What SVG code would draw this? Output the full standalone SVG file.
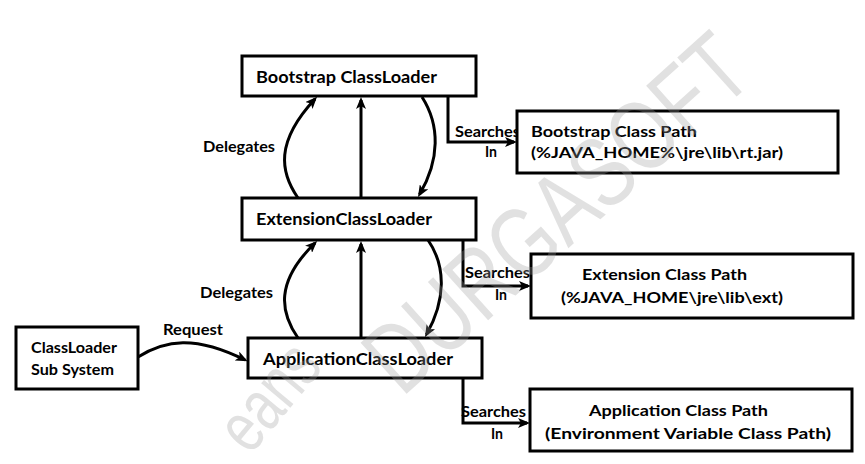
<svg xmlns="http://www.w3.org/2000/svg" width="865" height="464" viewBox="0 0 865 464">
<style>
.box{fill:#fff;stroke:#000;stroke-width:3}
.t{font-family:Lato,"Liberation Sans",sans-serif;font-weight:bold;fill:#000}
.big{font-size:17.5px}
.mid{font-size:16px}
.sm{font-size:15px}
.c{fill:none;stroke:#000;stroke-width:3}
.wm{font-family:"Liberation Sans",sans-serif;fill:#9a9a9a;fill-opacity:0.3}
</style>
<defs>
<marker id="ah" viewBox="0 0 12 10" markerWidth="12" markerHeight="10" refX="9" refY="5" orient="auto" markerUnits="userSpaceOnUse">
<path d="M0,0 L12,5 L0,10 L3,5 z" fill="#000"/>
</marker>
</defs>
<rect width="865" height="464" fill="#fff"/>
<g id="connectors">
<path class="c" d="M298,198 C280,172 275,142 315,99" marker-end="url(#ah)"/>
<path class="c" d="M361,197 V100" marker-end="url(#ah)"/>
<path class="c" d="M422,97 C440,125 440,160 419.5,194.5" marker-end="url(#ah)"/>
<path class="c" d="M298,338 C280,312 275,282 315,243" marker-end="url(#ah)"/>
<path class="c" d="M361,338 V244" marker-end="url(#ah)"/>
<path class="c" d="M428,240 C446,266 446,300 426.5,334.5" marker-end="url(#ah)"/>
<path class="c" d="M138,357 C165,340 195,335 245,360" marker-end="url(#ah)"/>
<path class="c" d="M448,96 V142 H514" marker-end="url(#ah)"/>
<path class="c" d="M463,240 V286 H528" marker-end="url(#ah)"/>
<path class="c" d="M463,378 V423 H527" marker-end="url(#ah)"/>
</g>
<g id="labels">
<text class="t sm" x="203" y="152" textLength="72" lengthAdjust="spacingAndGlyphs">Delegates</text>
<text class="t sm" x="200" y="298" textLength="73" lengthAdjust="spacingAndGlyphs">Delegates</text>
<text class="t sm" x="163" y="335" textLength="60" lengthAdjust="spacingAndGlyphs">Request</text>
<text class="t sm" x="455" y="137" textLength="65" lengthAdjust="spacingAndGlyphs">Searches</text>
<text class="t sm" x="485" y="157" textLength="12" lengthAdjust="spacingAndGlyphs">In</text>
<text class="t sm" x="465" y="278" textLength="65" lengthAdjust="spacingAndGlyphs">Searches</text>
<text class="t sm" x="495" y="300" textLength="12" lengthAdjust="spacingAndGlyphs">In</text>
<text class="t sm" x="461" y="417" textLength="65" lengthAdjust="spacingAndGlyphs">Searches</text>
<text class="t sm" x="491" y="439" textLength="12" lengthAdjust="spacingAndGlyphs">In</text>
</g>
<g id="bootstrap">
<rect class="box" x="242" y="56" width="234" height="40"/>
<text class="t big" x="256" y="83" textLength="181" lengthAdjust="spacingAndGlyphs">Bootstrap ClassLoader</text>
</g>
<g id="extension">
<rect class="box" x="242" y="198" width="234" height="42"/>
<text class="t big" x="256" y="225" textLength="176" lengthAdjust="spacingAndGlyphs">ExtensionClassLoader</text>
</g>
<g id="application">
<rect class="box" x="248" y="338" width="234" height="40"/>
<text class="t big" x="263" y="365" textLength="190" lengthAdjust="spacingAndGlyphs">ApplicationClassLoader</text>
</g>
<g id="subsystem">
<rect class="box" x="16" y="327" width="122" height="62"/>
<text class="t mid" x="31" y="353" textLength="86" lengthAdjust="spacingAndGlyphs">ClassLoader</text>
<text class="t mid" x="31" y="375" textLength="83" lengthAdjust="spacingAndGlyphs">Sub System</text>
</g>
<g id="bootstrap-path">
<rect class="box" x="517" y="111" width="321" height="62"/>
<text class="t sm" x="531" y="137" textLength="166" lengthAdjust="spacingAndGlyphs">Bootstrap Class Path</text>
<text class="t sm" x="531" y="158" textLength="252" lengthAdjust="spacingAndGlyphs">(%JAVA_HOME%\jre\lib\rt.jar)</text>
</g>
<g id="extension-path">
<rect class="box" x="531" y="254" width="322" height="64"/>
<text class="t sm" x="582" y="280" textLength="165" lengthAdjust="spacingAndGlyphs">Extension Class Path</text>
<text class="t sm" x="561" y="303" textLength="222" lengthAdjust="spacingAndGlyphs">(%JAVA_HOME\jre\lib\ext)</text>
</g>
<g id="application-path">
<rect class="box" x="530" y="389" width="322" height="62"/>
<text class="t sm" x="589" y="416" textLength="179" lengthAdjust="spacingAndGlyphs">Application Class Path</text>
<text class="t sm" x="545" y="439" textLength="286" lengthAdjust="spacingAndGlyphs">(Environment Variable Class Path)</text>
</g>
<g id="watermark">
<text class="wm" x="0" y="0" font-size="100" transform="translate(402,398) rotate(-42) scale(0.76,1)">DURGASOFT</text>
<text class="wm" x="0" y="0" font-size="72" transform="translate(250,456) rotate(-50) scale(0.74,1)">eans</text>
</g>
</svg>
